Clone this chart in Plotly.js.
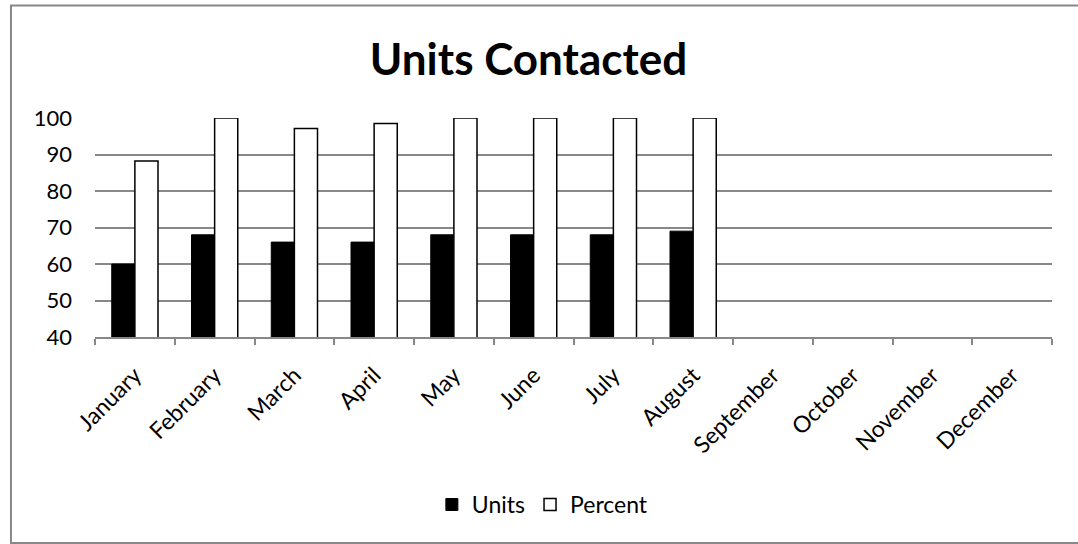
<!DOCTYPE html>
<html><head><meta charset="utf-8">
<script src="https://cdn.plot.ly/plotly-3.0.1.min.js"></script>
<style>html,body{margin:0;padding:0;background:#fff;}#chart{width:1078px;height:544px;}</style>
</head><body><div id="chart"></div>
<script>
const months = ["January","February","March","April","May","June","July","August","September","October","November","December"];
const unitsValues = [60,68,66,66,68,68,68,69,null,null,null,null];
const percentValues = [88.2,100,97.1,98.5,100,100,100,100,null,null,null,null];
const yTicks = [40,50,60,70,80,90,100];

const font = "Lato, 'Open Sans', sans-serif";
const data = [
  {type:'bar', name:'Units', x:months, y:unitsValues, marker:{color:'#000', line:{color:'#000', width:1}}},
  {type:'bar', name:'Percent', x:months, y:percentValues, marker:{color:'#fff', line:{color:'#000', width:1.5}}}
];
const layout = {
  width:1078, height:544,
  margin:{l:95, r:26, t:118, b:207, autoexpand:false},
  paper_bgcolor:'#fff', plot_bgcolor:'#fff',
  font:{family:font, size:21, color:'#000'},
  title:{text:'<b>Units Contacted</b>', font:{family:font, size:44, color:'#000'}, xref:'paper', x:0.453, xanchor:'center', y:0.89, yanchor:'middle'},
  barmode:'group', bargap:0.42, bargroupgap:0,
  xaxis:{type:'category', tickangle:-45, showgrid:false, showline:true, linecolor:'#888', linewidth:1.5,
         ticks:'outside', tickson:'boundaries', ticklen:6, tickcolor:'#888', tickwidth:1.5, tickfont:{size:23}, ticklabelstandoff:14},
  yaxis:{range:[40,100], tickvals:yTicks, showgrid:true, gridcolor:'#888', gridwidth:1.5, zeroline:false,
         showline:false, ticks:'', tickfont:{size:22}, ticklabelstandoff:22},
  showlegend:true,
  legend:{orientation:'h', x:0.352, xanchor:'left', y:-0.765, yanchor:'middle', font:{size:23}, traceorder:'normal', bgcolor:'rgba(0,0,0,0)'},
  shapes:[{type:'rect', xref:'paper', yref:'paper', x0:-0.0878, x1:1.04, y0:-0.9406, y1:1.5137, line:{color:'#888', width:2}}]
};
Plotly.newPlot('chart', data, layout, {displayModeBar:false});
</script></body></html>
